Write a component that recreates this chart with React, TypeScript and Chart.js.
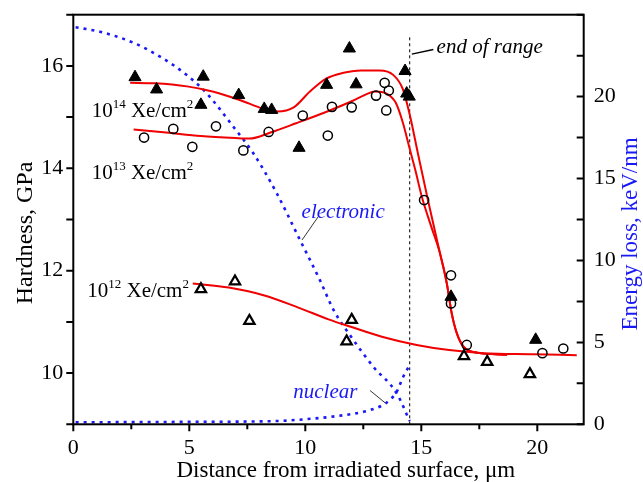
import React, { useEffect, useRef } from 'react';
import { Chart, registerables } from 'chart.js';
Chart.register(...registerables);

const FONT = '"Liberation Serif", "Times New Roman", serif';
const RED = 'rgb(240,0,0)';
const BLUE = 'rgb(25,25,245)';

// 10^14 Xe/cm2 (filled triangles)
const h14X = [2.66, 3.59, 5.6, 5.5, 7.13, 8.23, 8.55, 9.73, 10.92, 11.9, 12.19, 14.3, 14.37, 14.48, 16.28, 19.93];
const h14Y = [15.78, 15.54, 15.79, 15.24, 15.43, 15.16, 15.14, 14.4, 15.63, 16.34, 15.64, 15.9, 15.46, 15.4, 11.49, 10.65];
// 10^13 Xe/cm2 (open circles)
const h13X = [3.05, 4.31, 5.13, 6.15, 7.33, 8.42, 9.89, 10.97, 11.15, 12.0, 13.05, 13.42, 13.6, 13.49, 15.12, 16.28, 16.28, 16.96, 20.22, 21.12];
const h13Y = [14.6, 14.77, 14.42, 14.82, 14.35, 14.71, 15.03, 14.64, 15.2, 15.19, 15.42, 15.67, 15.52, 15.13, 13.38, 11.91, 11.36, 10.55, 10.39, 10.48];
// 10^12 Xe/cm2 (open triangles)
const h12X = [5.5, 6.97, 7.59, 12.0, 11.78, 16.84, 17.84, 19.68];
const h12Y = [11.64, 11.79, 11.02, 11.04, 10.62, 10.33, 10.22, 9.98];

// fitted curves
const fit14X = [2.45, 3.5, 4.9, 6.0, 7.2, 8.2, 8.8, 9.5, 10.2, 10.9, 11.6, 12.4, 13.2, 13.8, 14.2, 14.5, 14.85, 15.3, 15.8, 16.1, 16.31, 16.53, 16.81, 17.4, 18.7];
const fit14Y = [15.67, 15.66, 15.6, 15.5, 15.33, 15.16, 15.11, 15.19, 15.5, 15.75, 15.86, 15.91, 15.91, 15.82, 15.55, 15.05, 14.3, 13.35, 12.35, 11.75, 11.17, 10.78, 10.52, 10.4, 10.36];
const fit13X = [2.6, 4.0, 5.5, 7.0, 7.6, 8.5, 9.6, 11.0, 12.0, 12.6, 13.0, 13.5, 13.9, 14.2, 14.5, 14.75, 15.02, 15.4, 15.8, 16.1, 16.31, 16.53, 16.81, 17.4, 18.7];
const fit13Y = [14.76, 14.7, 14.63, 14.59, 14.58, 14.7, 14.88, 15.12, 15.31, 15.44, 15.5, 15.46, 15.28, 14.9, 14.38, 13.95, 13.45, 12.9, 12.35, 11.75, 11.17, 10.78, 10.52, 10.4, 10.36];
const fit12X = [5.15, 6.7, 8.2, 9.7, 11.0, 12.0, 13.3, 14.8, 16.2, 17.7, 19.8, 21.7];
const fit12Y = [11.75, 11.67, 11.52, 11.28, 11.05, 10.9, 10.71, 10.55, 10.45, 10.39, 10.37, 10.35];

// energy loss, keV/nm
const elecX = [0.1, 1.15, 2.59, 3.74, 4.89, 5.75, 6.9, 7.76, 8.77, 9.77, 10.63, 11.21, 12.07, 12.93, 13.94, 14.5];
const elecY = [24.23, 23.96, 23.29, 22.44, 21.32, 20.2, 18.16, 16.54, 14.1, 11.25, 8.8, 7.0, 5.15, 3.52, 1.89, 0.2];
const nuclX = [0.1, 5.0, 8.77, 9.91, 11.35, 12.79, 13.5, 13.94, 14.22, 14.44, 14.51];
const nuclY = [0.12, 0.15, 0.2, 0.3, 0.5, 0.87, 1.32, 1.99, 2.9, 3.45, 3.55];

// end of range
const rangeX = [14.5, 14.5];
const rangeY = [9.0, 16.6];

const xTitle = 'Distance from irradiated surface, \u03bcm';
const yTitle = 'Hardness, GPa';
const y2Title = 'Energy loss, keV/nm';

const pts = (xs: number[], ys: number[]) => xs.map((x, i) => ({ x, y: ys[i] }));

function drawSup(ctx: CanvasRenderingContext2D, x: number, y: number, segs: [string, boolean][], size: number) {
  let cx = x;
  for (const [t, sup] of segs) {
    const s = sup ? Math.round(size * 0.6) : size;
    ctx.font = `${s}px ${FONT}`;
    ctx.fillText(t, cx, sup ? y - size * 0.4 : y);
    cx += ctx.measureText(t).width;
  }
}

const annot = {
  id: 'annot',
  afterDatasetsDraw(chart: any) {
    const ctx: CanvasRenderingContext2D = chart.ctx;
    const { x, y, y2 } = chart.scales;
    const a = chart.chartArea;
    ctx.save();
    // ticks
    ctx.strokeStyle = '#000';
    ctx.lineWidth = 2;
    ctx.beginPath();
    for (const t of x.ticks) {
      const px = x.getPixelForValue(t.value);
      const len = t.value % 5 === 0 ? 7 : 5;
      ctx.moveTo(px, a.bottom); ctx.lineTo(px, a.bottom + len);
    }
    for (const t of y.ticks) {
      const py = y.getPixelForValue(t.value);
      ctx.moveTo(a.left, py); ctx.lineTo(a.left - 7, py);
    }
    for (const t of y2.ticks) {
      const py = y2.getPixelForValue(t.value);
      ctx.moveTo(a.right, py); ctx.lineTo(a.right - 7, py);
    }
    ctx.stroke();
    // frame
    ctx.strokeRect(a.left, a.top, a.right - a.left, a.bottom - a.top);

    ctx.fillStyle = '#000';
    ctx.textAlign = 'left';
    ctx.textBaseline = 'alphabetic';
    const P = (vx: number, vy: number, sc: any = y) => [x.getPixelForValue(vx), sc.getPixelForValue(vy)];
    let [lx, ly] = P(0.79, 15.01);
    drawSup(ctx, lx, ly, [['10', false], ['14', true], [' Xe/cm', false], ['2', true]], 21);
    [lx, ly] = P(0.79, 13.8);
    drawSup(ctx, lx, ly, [['10', false], ['13', true], [' Xe/cm', false], ['2', true]], 21);
    [lx, ly] = P(0.6, 11.49);
    drawSup(ctx, lx, ly, [['10', false], ['12', true], [' Xe/cm', false], ['2', true]], 21);

    // end of range
    ctx.font = `italic 21px ${FONT}`;
    [lx, ly] = P(15.66, 16.25);
    ctx.fillText('end of range', lx, ly);
    ctx.lineWidth = 1.5;
    ctx.beginPath();
    let [p1, q1] = P(14.59, 16.23);
    let [p2, q2] = P(15.52, 16.32);
    ctx.moveTo(p1, q1); ctx.lineTo(p2, q2);
    ctx.stroke();

    // electronic / nuclear
    ctx.fillStyle = BLUE;
    [lx, ly] = P(9.84, 13.02);
    ctx.fillText('electronic', lx, ly);
    [lx, ly] = P(9.48, 9.51);
    ctx.fillText('nuclear', lx, ly);
    ctx.strokeStyle = '#333';
    ctx.lineWidth = 1;
    ctx.beginPath();
    [p1, q1] = P(10.55, 13.05); [p2, q2] = P(9.86, 12.6);
    ctx.moveTo(p1, q1); ctx.lineTo(p2, q2);
    [p1, q1] = P(12.79, 9.66); [p2, q2] = P(13.44, 9.42);
    ctx.moveTo(p1, q1); ctx.lineTo(p2, q2);
    ctx.stroke();

    // axis titles
    ctx.fillStyle = '#000';
    ctx.font = `23px ${FONT}`;
    ctx.textAlign = 'center';
    ctx.fillText(xTitle, 345.8, 477);
    ctx.save();
    ctx.translate(31.5, 233);
    ctx.rotate(-Math.PI / 2);
    ctx.font = `24px ${FONT}`;
    ctx.fillText(yTitle, 0, 0);
    ctx.restore();
    ctx.save();
    ctx.translate(637, 234);
    ctx.rotate(-Math.PI / 2);
    ctx.fillStyle = BLUE;
    ctx.font = `23px ${FONT}`;
    ctx.fillText(y2Title, 0, 0);
    ctx.restore();
    ctx.restore();
  },
};

export default function App() {
  const ref = useRef<HTMLCanvasElement>(null);
  useEffect(() => {
    const tickFont = { family: FONT, size: 22 };
    const noPad = (s: any) => { s.paddingTop = 0; s.paddingBottom = 0; s.paddingLeft = 0; s.paddingRight = 0; };
    const chart = new Chart(ref.current as HTMLCanvasElement, {
      type: 'scatter',
      data: {
        datasets: [
          { data: pts(h14X, h14Y), yAxisID: 'y', pointStyle: 'triangle', pointRadius: 7, backgroundColor: '#000', borderColor: '#000', borderWidth: 1, order: 0 },
          { data: pts(h13X, h13Y), yAxisID: 'y', pointStyle: 'circle', pointRadius: 4.6, backgroundColor: 'rgba(0,0,0,0)', borderColor: '#000', borderWidth: 1.5, order: 0 },
          { data: pts(h12X, h12Y), yAxisID: 'y', pointStyle: 'triangle', pointRadius: 6, backgroundColor: 'rgba(0,0,0,0)', borderColor: '#000', borderWidth: 2.2, order: 0 },
          { data: pts(fit14X, fit14Y), yAxisID: 'y', showLine: true, pointRadius: 0, borderColor: RED, borderWidth: 2, cubicInterpolationMode: 'monotone', order: 1 },
          { data: pts(fit13X, fit13Y), yAxisID: 'y', showLine: true, pointRadius: 0, borderColor: RED, borderWidth: 2, cubicInterpolationMode: 'monotone', order: 1 },
          { data: pts(fit12X, fit12Y), yAxisID: 'y', showLine: true, pointRadius: 0, borderColor: RED, borderWidth: 2, cubicInterpolationMode: 'monotone', order: 1 },
          { data: pts(elecX, elecY), yAxisID: 'y2', showLine: true, pointRadius: 0, borderColor: BLUE, borderWidth: 2.6, borderDash: [3, 5], cubicInterpolationMode: 'monotone', order: 2 },
          { data: pts(nuclX, nuclY), yAxisID: 'y2', showLine: true, pointRadius: 0, borderColor: BLUE, borderWidth: 2.6, borderDash: [3, 5], cubicInterpolationMode: 'monotone', order: 2 },
          { data: pts(rangeX, rangeY), yAxisID: 'y', showLine: true, pointRadius: 0, borderColor: '#000', borderWidth: 1, borderDash: [3, 3], order: 3 },
        ] as any,
      },
      options: {
        animation: false,
        responsive: true,
        maintainAspectRatio: false,
        layout: { padding: { top: 14.7, left: 0, right: 0, bottom: 0 } },
        plugins: { legend: { display: false }, tooltip: { enabled: false } },
        scales: {
          x: {
            type: 'linear', min: 0, max: 22, position: 'bottom',
            grid: { display: false, drawTicks: false }, border: { display: false },
            ticks: { stepSize: 2.5, includeBounds: false, autoSkip: false, maxRotation: 0, padding: 11, font: tickFont, color: '#000',
              callback: (v: any) => (v % 5 === 0 ? String(v) : '') },
            afterFit: (s: any) => { s.height = 57.7; noPad(s); },
          },
          y: {
            type: 'linear', min: 9, max: 17, position: 'left',
            grid: { display: false, drawTicks: false }, border: { display: false },
            ticks: { stepSize: 1, autoSkip: false, padding: 10, font: tickFont, color: '#000',
              callback: (v: any) => (v % 2 === 0 ? String(v) : '') },
            afterFit: (s: any) => { s.width = 73.3; noPad(s); },
          },
          y2: {
            type: 'linear', min: 0, max: 25, position: 'right',
            grid: { display: false, drawTicks: false }, border: { display: false },
            ticks: { stepSize: 2.5, autoSkip: false, padding: 10, font: tickFont, color: '#000',
              callback: (v: any) => (v % 5 === 0 && v < 25 ? String(v) : '') },
            afterFit: (s: any) => { s.width = 59.3; noPad(s); },
          },
        },
      } as any,
      plugins: [annot],
    });
    return () => chart.destroy();
  }, []);
  return (
    <div style={{ position: 'fixed', left: 0, top: 0, width: 643, height: 482, background: '#fff' }}>
      <canvas ref={ref} />
    </div>
  );
}
